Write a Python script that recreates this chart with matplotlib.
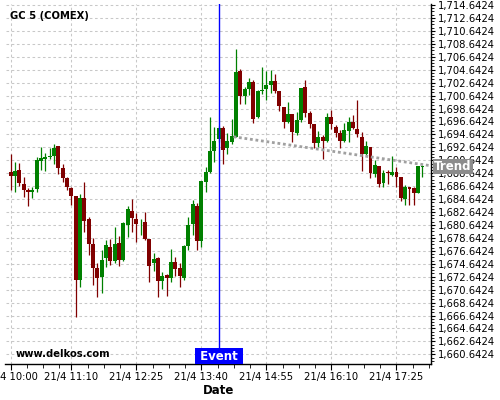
import matplotlib
matplotlib.use("Agg")
import matplotlib.pyplot as plt
from matplotlib.ticker import FixedLocator, FuncFormatter
import matplotlib.transforms as mtransforms
import numpy as np

# ---- data (5-minute candles starting 21/4 10:00) ----
opens = [1688.83, 1688.27, 1689.14, 1686.98, 1686.05, 1685.79, 1686.21, 1690.59, 1690.79, 1691.20,
         1691.36, 1692.85, 1689.45, 1687.85, 1686.30, 1685.12, 1672.14, 1684.76, 1681.57, 1677.70,
         1674.04, 1672.65, 1675.49, 1677.19, 1675.13, 1677.80, 1675.23, 1680.64, 1682.80, 1681.57,
         1680.90, 1681.05, 1678.48, 1674.71, 1675.49, 1672.04, 1672.91, 1672.40, 1674.87, 1674.05,
         1672.40, 1677.39, 1680.79, 1683.57, 1678.21, 1687.33, 1688.83, 1692.07, 1693.88, 1695.58,
         1692.59, 1693.52, 1694.29, 1704.44, 1700.63, 1701.66, 1702.79, 1697.28, 1701.35, 1701.66,
         1702.27, 1702.89, 1701.35, 1698.93, 1696.61, 1697.79, 1694.91, 1696.87, 1702.02, 1698.00,
         1696.25, 1693.26, 1694.19, 1693.67, 1697.28, 1695.84, 1694.91, 1693.67, 1695.22, 1696.61,
         1695.48, 1694.29, 1691.56, 1692.64, 1688.52, 1689.75, 1687.07, 1688.83, 1688.36, 1688.83,
         1688.11, 1684.70, 1686.46, 1686.30, 1685.53, 1689.65]
highs = [1691.56, 1690.33, 1690.17, 1688.01, 1686.31, 1686.46, 1691.10, 1692.65, 1691.82, 1692.60,
         1693.11, 1692.85, 1690.07, 1688.11, 1686.46, 1685.12, 1685.43, 1687.34, 1681.93, 1678.58,
         1674.71, 1676.77, 1678.32, 1678.42, 1680.28, 1678.94, 1681.15, 1683.58, 1684.61, 1682.55,
         1681.52, 1682.60, 1678.48, 1676.26, 1675.64, 1673.43, 1673.07, 1676.88, 1675.64, 1674.71,
         1677.55, 1681.92, 1684.50, 1683.99, 1687.44, 1689.65, 1697.28, 1695.83, 1695.90, 1695.94,
         1694.91, 1696.97, 1707.79, 1704.70, 1702.02, 1703.31, 1703.05, 1701.50, 1705.11, 1704.49,
         1704.59, 1703.92, 1701.35, 1698.93, 1699.60, 1697.79, 1698.15, 1701.86, 1703.05, 1698.26,
         1696.25, 1695.22, 1694.55, 1697.90, 1698.41, 1696.09, 1695.32, 1696.35, 1697.38, 1697.64,
         1699.96, 1695.06, 1693.67, 1692.64, 1690.68, 1689.75, 1689.14, 1689.14, 1691.30, 1689.55,
         1688.11, 1686.82, 1686.56, 1686.46, 1689.75, 1689.91]
lows = [1686.05, 1685.79, 1686.67, 1685.02, 1683.63, 1684.76, 1685.79, 1689.14, 1689.04, 1690.84,
        1690.07, 1688.47, 1687.34, 1686.05, 1683.73, 1666.37, 1671.11, 1679.61, 1676.00, 1671.36,
        1669.56, 1670.08, 1674.20, 1674.46, 1674.71, 1674.35, 1675.13, 1678.84, 1679.61, 1678.06,
        1679.09, 1678.32, 1671.78, 1673.53, 1669.46, 1670.75, 1669.72, 1671.78, 1672.76, 1671.11,
        1672.14, 1676.77, 1679.09, 1676.77, 1677.18, 1685.79, 1688.62, 1690.32, 1693.50, 1690.07,
        1691.56, 1693.16, 1694.19, 1699.34, 1699.29, 1700.73, 1696.35, 1697.12, 1700.88, 1700.00,
        1700.99, 1700.99, 1698.26, 1695.58, 1696.35, 1693.52, 1694.55, 1696.61, 1697.38, 1695.58,
        1692.49, 1692.75, 1690.79, 1693.52, 1695.43, 1694.29, 1692.49, 1693.52, 1693.42, 1695.43,
        1694.19, 1689.03, 1691.45, 1687.85, 1688.00, 1686.56, 1686.56, 1686.97, 1688.21, 1686.46,
        1684.34, 1683.73, 1683.73, 1683.73, 1685.53, 1688.00]
closes = [1688.26, 1688.94, 1687.19, 1686.10, 1685.79, 1686.05, 1690.69, 1691.00, 1691.10, 1691.36,
          1692.60, 1689.50, 1687.86, 1686.56, 1685.12, 1672.14, 1684.76, 1681.31, 1677.70, 1674.04,
          1672.50, 1675.23, 1677.55, 1675.13, 1677.70, 1675.23, 1680.90, 1683.11, 1681.77, 1680.74,
          1681.00, 1678.48, 1674.35, 1675.33, 1672.04, 1672.76, 1672.40, 1674.87, 1673.84, 1672.81,
          1677.39, 1680.64, 1683.88, 1678.21, 1687.44, 1688.83, 1692.07, 1693.62, 1695.63, 1692.23,
          1693.62, 1694.39, 1704.34, 1700.63, 1701.66, 1702.79, 1697.02, 1701.40, 1701.50, 1702.27,
          1702.89, 1701.35, 1699.08, 1696.61, 1697.79, 1695.06, 1696.87, 1701.86, 1698.00, 1696.25,
          1693.36, 1694.19, 1693.67, 1697.28, 1696.25, 1694.91, 1693.67, 1695.32, 1696.61, 1695.68,
          1694.65, 1691.61, 1692.84, 1688.62, 1689.91, 1686.97, 1688.62, 1688.62, 1688.83, 1688.00,
          1684.86, 1686.46, 1686.20, 1685.53, 1689.75, 1689.75]

tick_positions = [0, 14, 29, 44, 59, 74, 89]
tick_labels = ["21/4 10:00", "21/4 11:10", "21/4 12:25", "21/4 13:40",
               "21/4 14:55", "21/4 16:10", "21/4 17:25"]
event_index = 48
trend_x = [51.4, 96.9]
trend_y = [1694.28, 1689.80]
y_min, y_max = 1659.15, 1714.80
y_first_tick = 1660.6424

# ---- figure ----
fig = plt.figure(figsize=(5, 4), dpi=100)
ax = fig.add_axes([0.011, 0.09, 0.8504, 0.9])

GREEN = "#008000"
RED = "#800000"

x = np.arange(len(opens))
o = np.array(opens); c = np.array(closes); h = np.array(highs); l = np.array(lows)
up = c >= o
colors = np.where(up, GREEN, RED)

ax.vlines(x, l, h, colors=colors, linewidth=0.9, zorder=2)
bottoms = np.minimum(o, c)
heights = np.maximum(np.abs(c - o), 0.1)
ax.bar(x, heights, bottom=bottoms, width=0.9, color=colors, linewidth=0, zorder=3)

# event line
ax.axvline(event_index, color="#0000ff", linewidth=1.0, zorder=4)

# trend line
ax.plot(trend_x, trend_y, color="#a0a0a0", linewidth=2.0, linestyle=(0, (1, 1)),
        zorder=4, solid_capstyle="butt", dash_capstyle="butt", clip_on=False)

ax.set_xlim(-1.2, 96.9)
ax.set_ylim(y_min, y_max)

# grid
ax.grid(True, which="major", color="#c8c8c8", linewidth=0.75, linestyle=(0, (2.5, 2.5)))
ax.set_axisbelow(True)

# spines
for s in ["left", "top"]:
    ax.spines[s].set_visible(False)
ax.spines["right"].set_linewidth(1.0)
ax.spines["bottom"].set_linewidth(1.0)

# y axis on right
ax.yaxis.tick_right()
yt = np.arange(y_first_tick, y_max, 2.0)
ax.yaxis.set_major_locator(FixedLocator(yt))
ax.yaxis.set_minor_locator(FixedLocator(np.arange(y_first_tick - 1.0, y_max, 0.5)))
ax.yaxis.set_major_formatter(FuncFormatter(lambda v, p: f"{v:,.4f}"))
ax.tick_params(axis="y", which="major", direction="out", length=3, width=0.8, labelsize=7.2, pad=2)
ax.tick_params(axis="y", which="minor", direction="out", length=2, width=0.6)

# x axis
ax.xaxis.set_major_locator(FixedLocator(tick_positions))
ax.set_xticklabels(tick_labels)
minor_x = list(np.arange(0, 14, 3.75)) + list(np.arange(14, 97, 3.75))
ax.xaxis.set_minor_locator(FixedLocator(minor_x))
ax.tick_params(axis="x", which="major", direction="out", length=4, width=0.8, labelsize=7.2, pad=2)
ax.tick_params(axis="x", which="minor", direction="out", length=3, width=0.6)
ax.set_xlabel("Date", fontsize=8.5, fontweight="bold", labelpad=1)

# texts
fig.text(10 / 500, 1 - 15.7 / 400, "GC 5 (COMEX)", fontsize=7.2, fontweight="bold",
         ha="left", va="center")
fig.text(15.5 / 500, 1 - 354 / 400, "www.delkos.com", fontsize=7.2, fontweight="bold",
         ha="left", va="center")

# event label
trans_ev = mtransforms.blended_transform_factory(ax.transData, ax.transAxes)
ax.text(event_index, 0.004, " Event ", transform=trans_ev, ha="center", va="bottom",
        fontsize=8.5, fontweight="bold", color="white", zorder=6, clip_on=False,
        bbox=dict(boxstyle="square,pad=0.1", facecolor="#0000ff", edgecolor="none"))

# trend label
trans_tr = mtransforms.blended_transform_factory(ax.transAxes, ax.transData)
ax.text(1.008, trend_y[-1] - 0.15, "Trend", transform=trans_tr, ha="left", va="center",
        fontsize=8.5, fontweight="bold", color="white", zorder=6, clip_on=False,
        bbox=dict(boxstyle="square,pad=0.1", facecolor="#8c8c8c", edgecolor="none"))

fig.savefig("out.png", dpi=100)
